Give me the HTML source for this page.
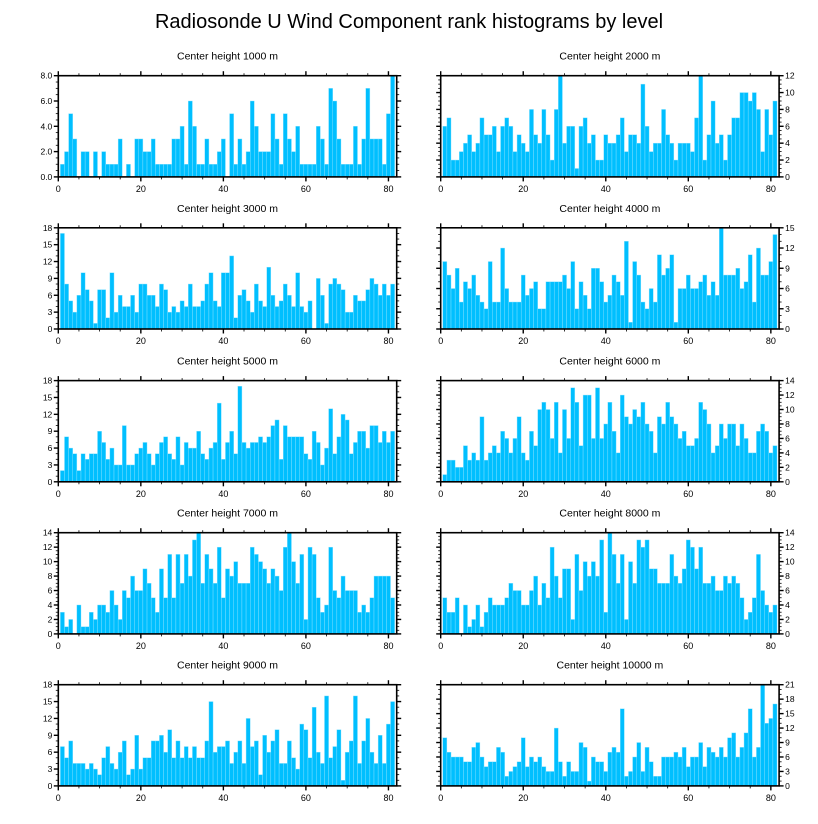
<!DOCTYPE html>
<html><head><meta charset="utf-8"><style>
html,body{margin:0;padding:0;background:#fff;}
svg{display:block;font-family:"Liberation Sans",sans-serif;}
</style></head><body>
<svg id="chart" width="818" height="824" viewBox="0 0 818 824" xmlns="http://www.w3.org/2000/svg">
<text x="409" y="28" text-anchor="middle" font-size="20" fill="#000">Radiosonde U Wind Component rank histograms by level</text>
</svg>
<script>
const levels = ["1000","2000","3000","4000","5000","6000","7000","8000","9000","10000"];
const yMax = [8,12,18,15,18,14,14,14,18,21];
const yStep = [2,2,3,3,3,2,2,2,3,3];
const counts1000 = [1,2,5,3,0,2,2,0,2,0,2,1,1,1,3,0,1,0,3,3,2,2,3,1,1,1,1,3,3,4,1,6,4,1,1,3,1,1,2,3,0,5,1,3,1,2,6,4,2,2,2,5,3,1,5,3,2,4,1,1,1,1,4,3,1,7,6,3,1,1,1,4,1,3,7,3,3,3,1,5,8];
const counts2000 = [6,7,2,2,3,4,5,3,4,7,5,5,6,3,6,7,6,3,5,4,3,8,5,4,8,5,2,8,12,4,6,6,1,6,7,4,5,2,2,5,4,4,5,7,3,5,5,4,11,6,3,4,4,8,5,4,2,4,4,4,3,7,12,2,5,9,4,5,2,5,7,7,10,10,9,10,8,3,8,5,9];
const counts3000 = [17,8,5,3,6,10,7,5,1,7,7,2,10,3,6,4,4,6,3,8,8,6,6,4,8,7,3,4,3,5,4,8,4,4,5,8,10,5,4,10,10,13,2,6,7,5,3,8,5,4,11,6,4,5,8,6,4,10,4,3,5,0,9,6,1,8,9,8,7,3,3,6,5,5,7,9,8,6,8,6,8];
const counts4000 = [10,8,6,9,4,7,6,8,5,4,3,10,4,4,12,6,4,4,4,8,5,6,7,3,3,7,7,7,7,8,6,10,3,7,5,3,9,9,7,4,5,8,7,5,13,1,10,8,4,3,6,4,11,8,9,11,1,6,6,8,6,6,7,8,5,7,5,15,8,8,8,9,6,7,11,4,12,8,8,10,14];
const counts5000 = [2,8,6,5,2,5,4,5,5,9,7,4,6,3,3,10,3,3,5,6,7,5,3,5,7,8,5,4,8,3,7,6,6,9,5,4,6,7,14,4,7,9,5,17,7,6,7,7,8,7,8,10,11,4,10,8,8,8,8,5,4,9,7,3,6,13,5,8,12,11,5,7,9,9,6,10,10,7,9,7,9];
const counts6000 = [1,3,3,2,2,5,3,4,3,9,3,4,5,4,7,6,4,6,9,4,3,7,5,10,11,10,6,11,4,10,6,13,11,5,12,12,6,13,6,8,11,7,4,12,9,8,10,9,11,8,7,4,9,8,11,9,8,6,7,5,5,6,11,10,8,4,5,8,6,8,8,5,8,6,4,4,7,8,7,4,5];
const counts7000 = [3,1,2,0,4,1,1,3,2,4,4,3,6,4,2,6,5,8,6,6,9,7,5,3,9,5,11,5,11,7,11,8,13,14,7,11,9,7,12,5,9,8,10,7,7,7,12,11,10,9,7,9,8,6,12,14,10,7,11,2,12,11,5,3,4,12,6,5,8,6,6,6,3,4,3,5,8,8,8,8,5];
const counts8000 = [5,3,3,5,0,4,1,2,4,1,3,5,4,4,4,5,7,6,6,4,4,6,8,4,7,5,12,8,5,9,9,2,11,6,10,8,10,8,13,3,14,11,7,11,2,10,7,13,12,13,9,9,7,7,7,11,8,7,9,13,12,9,12,7,7,8,6,6,8,7,8,7,5,2,3,5,11,6,4,3,4];
const counts9000 = [7,5,8,4,4,4,3,4,3,2,5,7,4,3,6,8,2,3,9,3,5,5,8,8,9,6,10,5,8,5,7,5,7,5,5,8,15,6,7,7,8,4,6,8,4,12,7,8,2,9,6,8,10,4,4,8,5,3,11,10,5,14,6,4,16,5,7,10,1,6,8,16,4,8,12,6,4,9,4,11,15];
const counts10000 = [10,7,6,6,6,5,5,8,9,6,4,5,5,8,7,2,3,4,5,10,4,6,5,6,4,3,3,12,5,2,5,3,3,9,8,1,6,5,5,3,7,8,7,16,2,3,6,9,3,8,5,2,2,6,6,6,7,6,8,4,6,6,9,4,8,7,6,8,6,10,11,6,8,11,16,6,8,21,13,14,17];
const allCounts = [counts1000,counts2000,counts3000,counts4000,counts5000,counts6000,counts7000,counts8000,counts9000,counts10000];
const xTicks = [0,20,40,60,80];
const xMax = 82;

const NS = "http://www.w3.org/2000/svg";
const svg = document.getElementById("chart");
function mk(tag, attrs, parent){
  const e = document.createElementNS(NS, tag);
  for (const k in attrs) e.setAttribute(k, attrs[k]);
  (parent||svg).appendChild(e);
  return e;
}
const colX = [58.3, 440.7];
const plotW = 338.4;
const rowY = [75.7, 227.8, 380.6, 532.7, 684.7];
const plotH = 101.2;

for (let p = 0; p < 10; p++) {
  const col = p % 2, row = Math.floor(p / 2);
  const x0 = colX[col], y0 = rowY[row];
  const g = mk("g", {});
  
  
  const sx = v => x0 + v / xMax * plotW;
  const sy = v => y0 + plotH - v / yMax[p] * plotH;
  const t = mk("text", {x: x0 + plotW/2, y: y0 - 16, "text-anchor":"middle", "font-size":"10.5", fill:"#000"}, g);
  t.textContent = "Center height " + levels[p] + " m";
  
  
  const data = allCounts[p];
  for (let i = 0; i < data.length; i++) {
    const k = i + 1;
    const r = mk("rect", {x: sx(k - 0.5), y: sy(data[i]), width: sx(k+0.5)-sx(k-0.5), height: sy(0)-sy(data[i]), fill:"#00bfff", stroke:"#8fe3ff", "stroke-width":"0.4"}, g);
    
    
  }
  // frame
  const f = mk("rect", {x:x0, y:y0, width:plotW, height:plotH, fill:"none", stroke:"#000", "stroke-width":"1.6"}, g);
  
  
  // x ticks
  for (let v = 0; v <= 80; v += 5) {
    const major = v % 20 === 0;
    const L = major ? 4.5 : 2.5, w = major ? 1.4 : 0.8;
    mk("line", {x1:sx(v), x2:sx(v), y1:y0+plotH, y2:y0+plotH+L, stroke:"#000", "stroke-width":w}, g);
    mk("line", {x1:sx(v), x2:sx(v), y1:y0, y2:y0-L, stroke:"#000", "stroke-width":w}, g);
  }
  xTicks.forEach(v => {
    const tl = mk("text", {x:sx(v), y:y0+plotH+15, "text-anchor":"middle", "font-size":"9", fill:"#000"}, g);
    tl.textContent = v;
    
    
  });
  // y ticks
  const st = yStep[p], minor = st / (st === 3 ? 3 : 4);
  for (let v = 0; v <= yMax[p] + 1e-6; v += minor) {
    const isMaj = Math.abs(v / st - Math.round(v / st)) < 1e-6;
    const L = isMaj ? 4.5 : 2.5, w = isMaj ? 1.4 : 0.8;
    mk("line", {x1:x0, x2:x0-L, y1:sy(v), y2:sy(v), stroke:"#000", "stroke-width":w}, g);
    mk("line", {x1:x0+plotW, x2:x0+plotW+L, y1:sy(v), y2:sy(v), stroke:"#000", "stroke-width":w}, g);
  }
  for (let v = 0; v <= yMax[p]; v += st) {
    const tx = col === 0 ? x0 - 6 : x0 + plotW + 6;
    const tl = mk("text", {x:tx, y:sy(v)+3, "text-anchor": col === 0 ? "end" : "start", "font-size":"8.5", fill:"#000"}, g);
    tl.textContent = p === 0 ? v.toFixed(1) : v;
    
    
  }
}
</script>
</body></html>
